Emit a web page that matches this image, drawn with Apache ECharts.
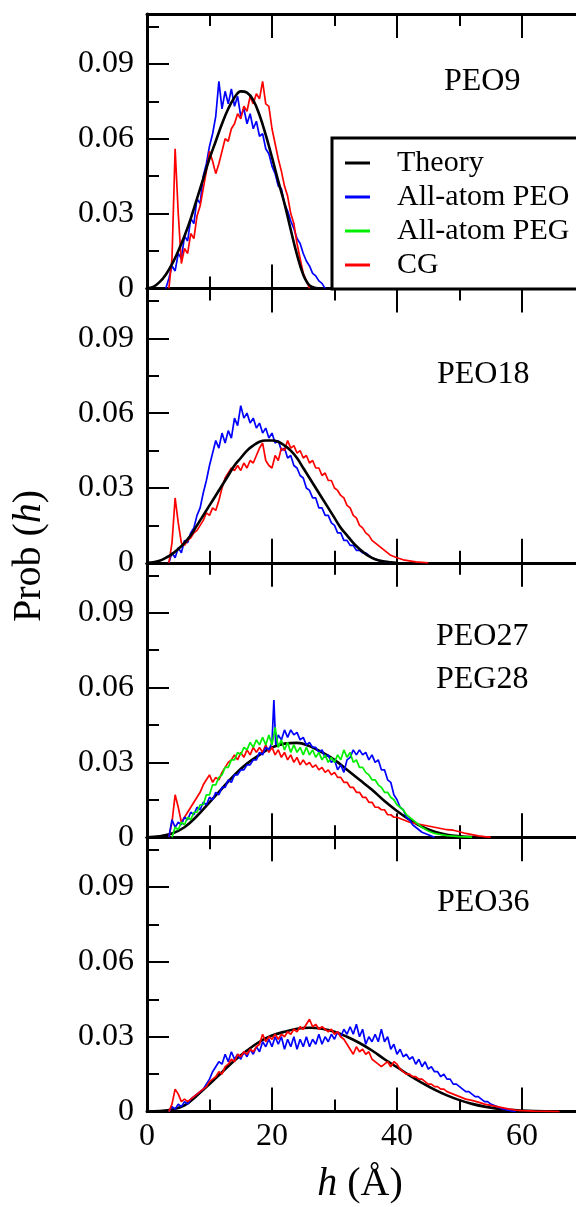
<!DOCTYPE html>
<html>
<head>
<meta charset="utf-8">
<script src="https://cdn.jsdelivr.net/npm/echarts@6/dist/echarts.min.js"></script>
<style>html,body{margin:0;padding:0;background:#fff}#c{width:576px;height:1207px}</style>
</head>
<body>
<div id="c"></div>
<script>
// ---------- DATA ----------
const panelLabels = [['PEO9'], ['PEO18'], ['PEO27', 'PEG28'], ['PEO36']];
const yTickValues = [0, 0.03, 0.06, 0.09];
const yMinorValues = [0.015, 0.045, 0.075, 0.105];
const xTickLabels = ['0', '20', '40', '60', '80'];

const peo9Theory = [[0,0],[1,0.0006],[2,0.0025],[3,0.0055],[4,0.0097],[5,0.015],[6,0.021],[7,0.028],[8,0.036],[9,0.044],[10,0.052],[11,0.059],[12,0.066],[13,0.072],[14,0.0765],[15,0.079],[16,0.0785],[17,0.0755],[18,0.0695],[19,0.0615],[20,0.0525],[21,0.043],[22,0.034],[23,0.0235],[24,0.0135],[25,0.0055],[26,0.0012],[27,0.0002],[28,0]];
const peo9AA = [[3,0],[3.5,0.004],[4,0.009],[4.5,0.007],[5,0.014],[5.5,0.012],[6,0.021],[6.5,0.019],[7,0.028],[7.5,0.026],[8,0.036],[8.5,0.034],[9,0.045],[9.5,0.05],[10,0.057],[10.5,0.062],[11,0.069],[11.5,0.083],[12,0.072],[12.5,0.079],[13,0.074],[13.5,0.08],[14,0.073],[14.5,0.077],[15,0.069],[15.5,0.072],[16,0.066],[16.5,0.07],[17,0.064],[17.5,0.067],[18,0.061],[18.5,0.062],[19,0.056],[19.5,0.054],[20,0.049],[20.5,0.046],[21,0.041],[21.5,0.04],[22,0.034],[22.5,0.031],[23,0.027],[23.5,0.024],[24,0.02],[24.5,0.018],[25,0.014],[25.5,0.011],[26,0.009],[26.5,0.006],[27,0.005],[27.5,0.003],[28,0.002],[28.5,0]];
const peo9CG = [[3.5,0],[4,0.012],[4.5,0.056],[5,0.03],[5.5,0.01],[6,0.016],[6.5,0.014],[7,0.022],[7.5,0.02],[8,0.029],[8.5,0.033],[9,0.04],[9.5,0.047],[10,0.055],[10.5,0.051],[11,0.046],[11.5,0.05],[12,0.055],[12.5,0.06],[13,0.059],[13.5,0.064],[14,0.066],[14.5,0.07],[15,0.068],[15.5,0.073],[16,0.071],[16.5,0.077],[17,0.074],[17.5,0.078],[18,0.076],[18.5,0.083],[19,0.074],[19.5,0.073],[20,0.064],[20.5,0.058],[21,0.052],[21.5,0.047],[22,0.041],[22.5,0.037],[23,0.03],[23.5,0.026],[24,0.018],[24.5,0.012],[25,0.006],[25.5,0.003],[26,0]];

const peo18Theory = [[0,0],[1,0.0002],[2,0.0008],[3,0.002],[4,0.0035],[5,0.0055],[6,0.008],[7,0.011],[8,0.015],[9,0.019],[10,0.023],[11,0.027],[12,0.031],[13,0.035],[14,0.039],[15,0.042],[16,0.045],[17,0.047],[18,0.0485],[19,0.049],[20,0.049],[21,0.0485],[22,0.047],[23,0.045],[24,0.042],[25,0.038],[26,0.034],[27,0.03],[28,0.026],[29,0.022],[30,0.018],[31,0.014],[32,0.011],[33,0.008],[34,0.0055],[35,0.0035],[36,0.002],[37,0.001],[38,0.0005],[39,0.0002],[40,0]];
const peo18AA = [[3.5,0],[4,0.004],[4.5,0.002],[5,0.006],[5.5,0.004],[6,0.009],[6.5,0.008],[7,0.012],[7.5,0.014],[8,0.019],[8.5,0.022],[9,0.028],[9.5,0.033],[10,0.039],[10.5,0.044],[11,0.049],[11.5,0.046],[12,0.052],[12.5,0.048],[13,0.053],[13.5,0.05],[14,0.058],[14.5,0.055],[15,0.063],[15.5,0.058],[16,0.06],[16.5,0.056],[17,0.058],[17.5,0.054],[18,0.056],[18.5,0.052],[19,0.054],[19.5,0.05],[20,0.052],[20.5,0.048],[21,0.049],[21.5,0.045],[22,0.046],[22.5,0.042],[23,0.043],[23.5,0.039],[24,0.038],[24.5,0.035],[25,0.034],[25.5,0.03],[26,0.029],[26.5,0.026],[27,0.026],[27.5,0.022],[28,0.022],[28.5,0.019],[29,0.019],[29.5,0.016],[30,0.015],[30.5,0.012],[31,0.012],[31.5,0.009],[32,0.009],[32.5,0.007],[33,0.007],[33.5,0.005],[34,0.005],[34.5,0.004],[35,0.004],[35.5,0.003],[36,0.002],[37,0.001],[38,0.0005],[39,0]];
const peo18CG = [[3.5,0],[4,0.008],[4.5,0.026],[5,0.016],[5.5,0.008],[6,0.007],[6.5,0.009],[7,0.01],[7.5,0.012],[8,0.013],[8.5,0.015],[9,0.017],[9.5,0.02],[10,0.019],[10.5,0.022],[11,0.021],[11.5,0.025],[12,0.03],[12.5,0.034],[13,0.036],[13.5,0.038],[14,0.037],[14.5,0.039],[15,0.037],[15.5,0.04],[16,0.038],[16.5,0.041],[17,0.04],[17.5,0.043],[18,0.046],[18.5,0.048],[19,0.041],[19.5,0.039],[20,0.038],[20.5,0.043],[21,0.041],[21.5,0.046],[22,0.045],[22.5,0.049],[23,0.046],[23.5,0.047],[24,0.044],[24.5,0.045],[25,0.042],[25.5,0.043],[26,0.04],[26.5,0.041],[27,0.038],[27.5,0.038],[28,0.035],[28.5,0.036],[29,0.033],[29.5,0.033],[30,0.03],[30.5,0.029],[31,0.027],[31.5,0.026],[32,0.023],[32.5,0.022],[33,0.019],[33.5,0.018],[34,0.015],[34.5,0.014],[35,0.012],[35.5,0.011],[36,0.009],[36.5,0.008],[37,0.007],[37.5,0.006],[38,0.005],[39,0.003],[40,0.002],[41,0.0012],[42,0.0008],[43,0.0004],[44,0.0002],[45,0]];

const peo27Theory = [[0,0],[2,0.0004],[4,0.0015],[6,0.004],[8,0.0085],[10,0.014],[12,0.0195],[14,0.025],[16,0.0295],[18,0.033],[20,0.036],[22,0.0375],[24,0.0378],[26,0.0365],[28,0.034],[30,0.031],[32,0.027],[34,0.023],[36,0.019],[38,0.0145],[40,0.0105],[42,0.007],[44,0.0042],[46,0.0022],[48,0.001],[50,0.0004],[52,0.0001],[54,0]];
const peo27AA = [[3.5,0],[4,0.007],[4.5,0.004],[5,0.006],[5.5,0.005],[6,0.008],[6.5,0.007],[7,0.01],[7.5,0.009],[8,0.012],[8.5,0.011],[9,0.014],[9.5,0.013],[10,0.016],[10.5,0.015],[11,0.018],[11.5,0.017],[12,0.02],[12.5,0.02],[13,0.023],[13.5,0.022],[14,0.025],[14.5,0.025],[15,0.027],[15.5,0.027],[16,0.029],[16.5,0.029],[17,0.031],[17.5,0.031],[18,0.034],[18.5,0.033],[19,0.036],[19.5,0.035],[20,0.038],[20.3,0.055],[20.6,0.037],[21,0.041],[21.5,0.039],[22,0.043],[22.5,0.04],[23,0.043],[23.5,0.041],[24,0.042],[24.5,0.039],[25,0.04],[25.5,0.037],[26,0.038],[26.5,0.036],[27,0.036],[27.5,0.034],[28,0.035],[28.5,0.032],[29,0.033],[29.5,0.03],[30,0.031],[30.5,0.027],[31,0.029],[31.5,0.026],[32,0.031],[32.5,0.032],[33,0.035],[33.5,0.033],[34,0.035],[34.5,0.033],[35,0.034],[35.5,0.031],[36,0.033],[36.5,0.03],[37,0.031],[37.5,0.027],[38,0.027],[38.5,0.023],[39,0.022],[39.5,0.017],[40,0.015],[40.5,0.012],[41,0.011],[41.5,0.008],[42,0.007],[42.5,0.005],[43,0.004],[43.5,0.003],[44,0.002],[45,0.001],[46,0]];
const peg28AA = [[4,0],[4.5,0.004],[5,0.003],[5.5,0.006],[6,0.005],[6.5,0.008],[7,0.007],[7.5,0.01],[8,0.01],[8.5,0.013],[9,0.013],[9.5,0.017],[10,0.017],[10.5,0.021],[11,0.021],[11.5,0.024],[12,0.025],[12.5,0.028],[13,0.028],[13.5,0.031],[14,0.031],[14.5,0.034],[15,0.033],[15.5,0.036],[16,0.035],[16.5,0.038],[17,0.036],[17.5,0.039],[18,0.037],[18.5,0.04],[19,0.037],[19.5,0.041],[20,0.037],[20.5,0.044],[21,0.036],[21.5,0.039],[22,0.035],[22.5,0.038],[23,0.034],[23.5,0.037],[24,0.034],[24.5,0.036],[25,0.033],[25.5,0.036],[26,0.033],[26.5,0.035],[27,0.032],[27.5,0.034],[28,0.031],[28.5,0.033],[29,0.03],[29.5,0.032],[30,0.03],[30.5,0.033],[31,0.031],[31.5,0.035],[32,0.032],[32.5,0.034],[33,0.03],[33.5,0.031],[34,0.028],[34.5,0.028],[35,0.026],[35.5,0.025],[36,0.023],[36.5,0.023],[37,0.021],[37.5,0.02],[38,0.018],[38.5,0.018],[39,0.016],[39.5,0.015],[40,0.013],[40.5,0.012],[41,0.011],[41.5,0.009],[42,0.008],[42.5,0.007],[43,0.006],[43.5,0.005],[44,0.004],[45,0.0025],[46,0.0015],[47,0.001],[48,0.0006],[50,0.0002],[52,0]];
const peo27CG = [[3.5,0],[4,0.006],[4.5,0.017],[5,0.012],[5.5,0.006],[6,0.008],[6.5,0.01],[7,0.012],[7.5,0.014],[8,0.016],[8.5,0.018],[9,0.021],[9.5,0.023],[10,0.025],[10.5,0.022],[11,0.024],[11.5,0.023],[12,0.026],[12.5,0.028],[13,0.03],[13.5,0.031],[14,0.033],[14.5,0.031],[15,0.034],[15.5,0.032],[16,0.035],[16.5,0.033],[17,0.036],[17.5,0.034],[18,0.036],[18.5,0.034],[19,0.037],[19.5,0.034],[20,0.036],[20.5,0.033],[21,0.035],[21.5,0.032],[22,0.034],[22.5,0.031],[23,0.033],[23.5,0.03],[24,0.032],[24.5,0.029],[25,0.031],[25.5,0.029],[26,0.03],[26.5,0.028],[27,0.029],[27.5,0.027],[28,0.028],[28.5,0.026],[29,0.027],[29.5,0.025],[30,0.026],[30.5,0.024],[31,0.024],[31.5,0.022],[32,0.022],[32.5,0.02],[33,0.02],[33.5,0.018],[34,0.018],[34.5,0.016],[35,0.016],[35.5,0.014],[36,0.014],[36.5,0.012],[37,0.012],[37.5,0.011],[38,0.011],[38.5,0.009],[39,0.009],[39.5,0.008],[40,0.008],[41,0.007],[42,0.006],[43,0.0055],[44,0.005],[45,0.0045],[46,0.004],[47,0.0035],[48,0.003],[49,0.0028],[50,0.0022],[51,0.0015],[52,0.001],[53,0.0005],[54,0.0002],[55,0]];

const peo36Theory = [[0,0],[2,0.0002],[4,0.0008],[6,0.0025],[8,0.0065],[10,0.011],[12,0.0158],[14,0.0205],[16,0.0245],[18,0.028],[20,0.0305],[22,0.032],[24,0.0332],[26,0.0336],[28,0.0332],[30,0.032],[32,0.03],[34,0.0275],[36,0.0245],[38,0.021],[40,0.0178],[42,0.0145],[44,0.0115],[46,0.0088],[48,0.0065],[50,0.0046],[52,0.0031],[54,0.002],[56,0.0012],[58,0.0007],[60,0.0004],[62,0.0002],[64,0.0001],[66,0.00005],[68,0]];
const peo36AA = [[3.5,0],[4,0.002],[4.5,0.001],[5,0.003],[5.5,0.002],[6,0.004],[6.5,0.003],[7,0.005],[7.5,0.006],[8,0.007],[8.5,0.008],[9,0.009],[9.5,0.011],[10,0.013],[10.5,0.016],[11,0.018],[11.5,0.02],[12,0.019],[12.5,0.023],[13,0.02],[13.5,0.024],[14,0.021],[14.5,0.023],[15,0.021],[15.5,0.024],[16,0.022],[16.5,0.025],[17,0.023],[17.5,0.026],[18,0.024],[18.5,0.028],[19,0.026],[19.5,0.029],[20,0.026],[20.5,0.03],[21,0.027],[21.5,0.03],[22,0.025],[22.5,0.029],[23,0.026],[23.5,0.03],[24,0.025],[24.5,0.029],[25,0.026],[25.5,0.03],[26,0.026],[26.5,0.029],[27,0.027],[27.5,0.031],[28,0.027],[28.5,0.03],[29,0.028],[29.5,0.031],[30,0.029],[30.5,0.032],[31,0.03],[31.5,0.033],[32,0.031],[32.5,0.034],[33,0.031],[33.5,0.035],[34,0.03],[34.5,0.033],[35,0.027],[35.5,0.03],[36,0.028],[36.5,0.031],[37,0.028],[37.5,0.033],[38,0.028],[38.5,0.03],[39,0.025],[39.5,0.027],[40,0.023],[40.5,0.025],[41,0.022],[41.5,0.023],[42,0.021],[42.5,0.022],[43,0.019],[43.5,0.021],[44,0.018],[44.5,0.02],[45,0.017],[45.5,0.018],[46,0.016],[46.5,0.016],[47,0.014],[47.5,0.015],[48,0.013],[48.5,0.013],[49,0.011],[49.5,0.011],[50,0.01],[50.5,0.009],[51,0.008],[51.5,0.008],[52,0.007],[52.5,0.006],[53,0.006],[53.5,0.005],[54,0.004],[54.5,0.004],[55,0.003],[56,0.002],[57,0.001],[58,0.0005],[59,0]];
const peo36CG = [[3.5,0],[4,0.003],[4.5,0.009],[5,0.007],[5.5,0.004],[6,0.005],[6.5,0.004],[7,0.005],[7.5,0.006],[8,0.007],[8.5,0.008],[9,0.009],[9.5,0.01],[10,0.012],[10.5,0.013],[11,0.014],[11.5,0.016],[12,0.015],[12.5,0.018],[13,0.019],[13.5,0.021],[14,0.02],[14.5,0.023],[15,0.022],[15.5,0.024],[16,0.023],[16.5,0.025],[17,0.024],[17.5,0.026],[18,0.027],[18.5,0.031],[19,0.028],[19.5,0.03],[20,0.029],[20.5,0.031],[21,0.029],[21.5,0.031],[22,0.03],[22.5,0.032],[23,0.031],[23.5,0.033],[24,0.032],[24.5,0.034],[25,0.033],[25.5,0.035],[26,0.037],[26.5,0.034],[27,0.035],[27.5,0.033],[28,0.034],[28.5,0.033],[29,0.032],[29.5,0.033],[30,0.031],[30.5,0.032],[31,0.03],[31.5,0.029],[32,0.027],[32.5,0.025],[33,0.023],[33.5,0.026],[34,0.024],[34.5,0.025],[35,0.023],[35.5,0.024],[36,0.021],[36.5,0.02],[37,0.019],[37.5,0.018],[38,0.019],[38.5,0.02],[39,0.018],[39.5,0.02],[40,0.019],[40.5,0.017],[41,0.016],[41.5,0.015],[42,0.015],[42.5,0.014],[43,0.014],[43.5,0.013],[44,0.013],[44.5,0.012],[45,0.011],[45.5,0.011],[46,0.01],[46.5,0.01],[47,0.009],[47.5,0.009],[48,0.008],[49,0.007],[50,0.006],[51,0.005],[52,0.0045],[53,0.0038],[54,0.003],[55,0.0025],[56,0.002],[57,0.0015],[58,0.001],[59,0.0006],[60,0.0004],[62,0.0002],[64,0.0001],[66,0]];

// ---------- CHART ----------
const FONT = "'Liberation Serif','Times New Roman',serif";
const C_T = '#000000', C_AA = '#0000ff', C_PEG = '#00ee00', C_CG = '#ff0000';
const tops = [14, 288.4, 562.8, 837.2];
const H = 274.4;

const grids = [], xAxes = [], yAxes = [];
tops.forEach((t, i) => {
  grids.push({left: 147, top: t, width: 500, height: H, outerBoundsMode: 'none', containLabel: false});
  const xBase = {
    gridIndex: i, type: 'value', min: 0, max: 80, interval: 20,
    axisLine: {onZero: false, lineStyle: {color: '#000', width: 3}},
    axisTick: {inside: true, length: 24, lineStyle: {color: '#000', width: 2}},
    minorTick: {show: true, splitNumber: 2, length: 12, lineStyle: {color: '#000', width: 2}},
    splitLine: {show: false}, minorSplitLine: {show: false}
  };
  xAxes.push(Object.assign({}, xBase, {
    position: 'bottom',
    axisLabel: {show: i === 3, margin: 9, fontFamily: FONT, fontSize: 32, color: '#000',
      formatter: v => xTickLabels[Math.round(v / 20)]}
  }));
  xAxes.push(Object.assign({}, xBase, {position: 'top', axisLabel: {show: false}}));
  yAxes.push({
    gridIndex: i, type: 'value', min: 0, max: 0.11, position: 'left',
    axisLine: {onZero: false, lineStyle: {color: '#000', width: 3}},
    axisTick: {inside: true, length: 22, customValues: yTickValues, lineStyle: {color: '#000', width: 2}},
    axisLabel: {customValues: yTickValues, margin: 13, fontFamily: FONT, fontSize: 32, color: '#000',
      formatter: v => (v === 0 ? '0' : v.toFixed(2))},
    splitLine: {show: false}
  });
  yAxes.push({
    gridIndex: i, type: 'value', min: 0, max: 0.11, position: 'left',
    axisLine: {show: false},
    axisTick: {inside: true, length: 12, customValues: yMinorValues, lineStyle: {color: '#000', width: 2}},
    axisLabel: {show: false},
    splitLine: {show: false}
  });
});

function ser(name, data, panel, color, theory) {
  return {
    name, type: 'line', data, xAxisIndex: panel * 2, yAxisIndex: panel * 2,
    showSymbol: false, symbol: 'none', smooth: theory ? 0.4 : false,
    lineStyle: {color, width: theory ? 2.6 : 1.7}, itemStyle: {color},
    z: 2
  };
}

const series = [
  ser('All-atom PEO', peo9AA, 0, C_AA),
  ser('CG', peo9CG, 0, C_CG),
  ser('Theory', peo9Theory, 0, C_T, true),
  ser('All-atom PEO', peo18AA, 1, C_AA),
  ser('CG', peo18CG, 1, C_CG),
  ser('Theory', peo18Theory, 1, C_T, true),
  ser('Theory', peo27Theory, 2, C_T, true),
  ser('CG', peo27CG, 2, C_CG),
  ser('All-atom PEO', peo27AA, 2, C_AA),
  ser('All-atom PEG', peg28AA, 2, C_PEG),
  ser('Theory', peo36Theory, 3, C_T, true),
  ser('All-atom PEO', peo36AA, 3, C_AA),
  ser('CG', peo36CG, 3, C_CG)
];

const labelPos = [[444, [82]], [437, [375]], [436, [637, 680]], [437, [903]]];
const graphics = [];
panelLabels.forEach((lines, i) => {
  lines.forEach((txt, j) => {
    graphics.push({type: 'text', left: labelPos[i][0], top: labelPos[i][1][j] - 16,
      style: {text: txt, font: '32px ' + FONT, fill: '#000'}});
  });
});
graphics.push({
  type: 'text', x: 29, y: 556, rotation: Math.PI / 2,
  style: {
    text: '{n|Prob (}{i|h}{n|)}', align: 'center', verticalAlign: 'middle',
    rich: {n: {fontFamily: FONT, fontSize: 40, fill: '#000'}, i: {fontFamily: FONT, fontSize: 40, fontStyle: 'italic', fill: '#000'}}
  }
});
graphics.push({
  type: 'text', x: 360, y: 1184,
  style: {
    text: '{i|h}{n| (Å)}', align: 'center', verticalAlign: 'middle',
    rich: {n: {fontFamily: FONT, fontSize: 40, fill: '#000'}, i: {fontFamily: FONT, fontSize: 40, fontStyle: 'italic', fill: '#000'}}
  }
});

const chart = echarts.init(document.getElementById('c'), null, {renderer: 'canvas'});
chart.setOption({
  animation: false,
  backgroundColor: '#fff',
  grid: grids, xAxis: xAxes, yAxis: yAxes, series,
  legend: {
    left: 332, top: 138, orient: 'vertical', selectedMode: false,
    padding: [8, 60, 7, 13], itemGap: 0, itemWidth: 25, itemHeight: 3,
    borderColor: '#000', borderWidth: 3, backgroundColor: '#fff',
    textStyle: {fontFamily: FONT, fontSize: 30, color: '#000', lineHeight: 34, padding: [0, 0, 0, 22]},
    data: [{name: 'Theory', icon: 'rect'}, {name: 'All-atom PEO', icon: 'rect'}, {name: 'All-atom PEG', icon: 'rect'}, {name: 'CG', icon: 'rect'}]
  },
  graphic: graphics
});
</script>
</body>
</html>
